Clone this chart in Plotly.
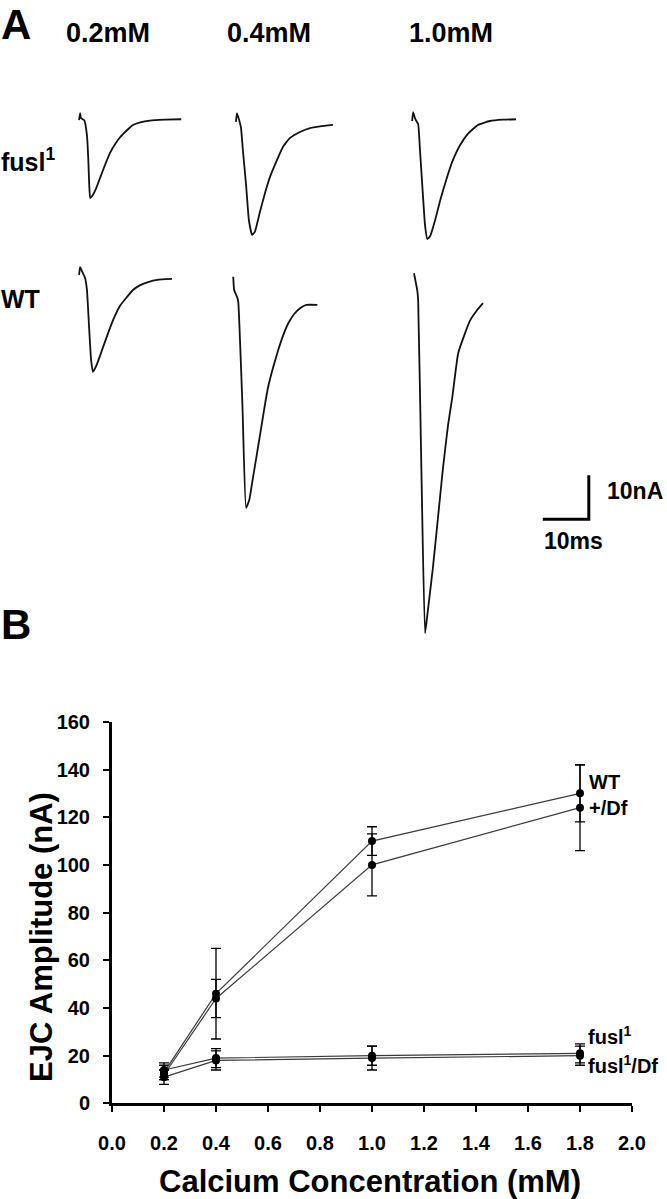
import plotly.graph_objects as go

# ---------------- Panel B data ----------------
calcium_mM = [0.2, 0.4, 1.0, 1.8]
wt_nA = [13, 46, 110, 130]
wt_err = [3, 19, 6, 12]
df_nA = [12, 44, 100, 124]
df_err = [2, 8, 13, 18]
fusl_nA = [14, 19, 20, 21]
fusl_err = [3, 4, 4, 4]
fusl_df_nA = [11, 18, 19, 20]
fusl_df_err = [3, 4, 5, 4]
x_ticks = [0.0, 0.2, 0.4, 0.6, 0.8, 1.0, 1.2, 1.4, 1.6, 1.8, 2.0]
y_ticks = [0, 20, 40, 60, 80, 100, 120, 140, 160]

# ---------------- Panel A data (EJC traces: time ms, current nA) ----------------
fusl_02_t = [0, 0.2, 0.4, 1.1, 1.7, 2.0, 2.2, 2.4, 2.8, 3.7, 4.6, 5.7, 6.7, 7.8, 8.9, 10.4, 11.7, 13.3, 15.4, 18.7, 22.2]
fusl_02_i = [0, 1.6, 0.5, 0, -3.4, -9.1, -14.8, -17.7, -17.3, -15.5, -13.0, -10.0, -7.5, -5.5, -3.9, -2.3, -1.1, -0.5, -0.1, 0.1, 0.2]
fusl_04_t = [0, 0.2, 0.7, 1.1, 1.5, 2.2, 2.8, 3.5, 4.1, 5.2, 6.3, 7.4, 8.9, 10.2, 11.7, 13.9, 16.1, 18.3, 21.1]
fusl_04_i = [0.5, 2.5, 0.9, -0.9, -5.9, -13.9, -21.8, -25.2, -24.5, -20.0, -15.7, -12.0, -8.2, -5.2, -3.2, -1.8, -0.9, -0.5, -0.2]
fusl_10_t = [0, 0.2, 0.7, 1.3, 1.7, 2.2, 2.8, 3.3, 3.9, 5.0, 6.1, 7.4, 8.7, 10.4, 12.2, 14.3, 16.9, 19.8, 22.6]
fusl_10_i = [-0.2, 1.8, 0.2, -0.9, -6.8, -14.8, -23.9, -27.0, -26.4, -22.7, -18.2, -13.6, -9.5, -5.7, -3.0, -1.1, -0.2, 0.1, 0.2]
wt_02_t = [0, 0.2, 0.7, 1.3, 1.7, 2.2, 2.6, 3.0, 3.7, 4.6, 5.2, 6.3, 7.4, 8.9, 10.4, 11.7, 13.3, 15.0, 17.0, 20.2]
wt_02_i = [0.9, 2.7, 1.6, 0.2, -2.5, -11.6, -18.4, -21.1, -19.8, -17.3, -15.5, -12.3, -9.3, -6.1, -4.1, -2.5, -1.4, -0.7, -0.2, 0]
wt_04_t = [0, 0.2, 0.9, 1.1, 2.0, 2.8, 3.5, 4.1, 5.0, 5.9, 6.7, 7.6, 8.7, 9.8, 10.9, 12.0, 13.3, 14.6, 15.9, 18.3]
wt_04_i = [6.4, 3.4, 1.6, 0.7, -22.7, -46.1, -44.3, -40.5, -34.8, -29.1, -23.9, -18.6, -14.1, -10.2, -6.8, -4.1, -2.0, -0.7, 0, 0]
wt_10_t = [0, 0.7, 0.9, 1.6, 2.4, 3.0, 4.1, 5.2, 6.3, 7.4, 8.3, 9.6, 11.1, 12.2, 13.7, 15.0]
wt_10_i = [6.8, 2.95, 0.7, -37.5, -75.0, -70.0, -60.2, -48.9, -37.5, -27.7, -21.6, -11.4, -6.8, -3.9, -1.6, 0]
scale_ms = 10
scale_nA = 10

# ---------------- layout constants ----------------
W, H = 667, 1199
PX_PER_MS, PX_PER_NA = 4.6, 4.4
A_TOP, A_BOTTOM = 0, 660          # pixel extent of the panel A canvas
# placement of each trace on panel A canvas (start time ms, baseline nA)
placement = {
    "fusl_02": (17.2, -27.3), "fusl_04": (51.3, -28.2), "fusl_10": (89.6, -27.3),
    "wt_02": (17.2, -63.4), "wt_04": (50.7, -69.3), "wt_10": (90.0, -68.9),
}
scale_corner = (128.0, -118.0)

FONT = "Liberation Sans, Arial"


def fx(p):
    return p / W


def fy(p):
    return 1 - p / H


fig = go.Figure()

# ---- panel B series (first so that axis x/y is the main subplot) ----
series = [
    (wt_nA, wt_err), (df_nA, df_err), (fusl_nA, fusl_err), (fusl_df_nA, fusl_df_err),
]
for vals, err in series:
    fig.add_trace(go.Scatter(
        x=calcium_mM, y=vals, mode="lines+markers",
        line=dict(color="#3a3a3a", width=1.2),
        marker=dict(color="black", size=8),
        error_y=dict(type="data", array=err, visible=True, color="black", thickness=1.3, width=5),
        showlegend=False, hoverinfo="skip", cliponaxis=False))

# ---- panel A traces ----
traces_a = {
    "fusl_02": (fusl_02_t, fusl_02_i), "fusl_04": (fusl_04_t, fusl_04_i), "fusl_10": (fusl_10_t, fusl_10_i),
    "wt_02": (wt_02_t, wt_02_i), "wt_04": (wt_04_t, wt_04_i), "wt_10": (wt_10_t, wt_10_i),
}
for name, (t, i) in traces_a.items():
    t0, b0 = placement[name]
    fig.add_trace(go.Scatter(x=[v + t0 for v in t], y=[v + b0 for v in i], mode="lines",
                             line=dict(color="#111", width=1.8, shape="spline", smoothing=0.4),
                             xaxis="x2", yaxis="y2", showlegend=False, hoverinfo="skip"))
cx, cy = scale_corner
fig.add_trace(go.Scatter(x=[cx - scale_ms, cx, cx], y=[cy, cy, cy + scale_nA], mode="lines",
                         line=dict(color="black", width=3), xaxis="x2", yaxis="y2",
                         showlegend=False, hoverinfo="skip"))

fig.update_layout(
    width=W, height=H, margin=dict(l=0, r=0, t=0, b=0, autoexpand=False),
    paper_bgcolor="white", plot_bgcolor="rgba(0,0,0,0)",
    xaxis=dict(domain=[fx(112), fx(632)], range=[0, 2], showline=True, linewidth=3, linecolor="black",
               ticks="outside", ticklen=6, tickwidth=2, tickcolor="black", tickvals=x_ticks,
               ticktext=[f"{v:.1f}" for v in x_ticks], showgrid=False, zeroline=False,
               tickfont=dict(family=FONT, size=20, color="black", weight="bold"),
               ticklabelstandoff=14, anchor="y", fixedrange=True),
    yaxis=dict(domain=[fy(1103.4), fy(721.8)], range=[0, 160], showline=True, linewidth=3, linecolor="black",
               ticks="outside", ticklen=6, tickwidth=2, tickcolor="black", tickvals=y_ticks,
               showgrid=False, zeroline=False,
               tickfont=dict(family=FONT, size=20, color="black", weight="bold"),
               ticklabelstandoff=9, anchor="x", fixedrange=True),
    xaxis2=dict(domain=[0, 1], range=[0, W / PX_PER_MS], visible=False, anchor="y2", fixedrange=True),
    yaxis2=dict(domain=[fy(A_BOTTOM), fy(A_TOP)], range=[-A_BOTTOM / PX_PER_NA, -A_TOP / PX_PER_NA],
                visible=False, anchor="x2", fixedrange=True),
)


def txt(s, x, y, size, xanchor="center", yanchor="middle", angle=0):
    fig.add_annotation(text=s, x=fx(x), y=fy(y), xref="paper", yref="paper", showarrow=False,
                       xanchor=xanchor, yanchor=yanchor, textangle=angle, borderpad=0,
                       font=dict(family=FONT, size=size, color="black", weight="bold"))


txt("A", 0, 0, 42, xanchor="left", yanchor="top")
txt("B", 0, 624, 42, xanchor="left")
txt("0.2mM", 108, 33, 27)
txt("0.4mM", 269, 33, 27)
txt("1.0mM", 451, 33, 27)
txt("fusl<sup>1</sup>", 0, 160, 25, xanchor="left")
txt("WT", 0, 299, 25, xanchor="left")
txt("10nA", 606, 491, 23, xanchor="left")
txt("10ms", 543, 541, 23, xanchor="left")

txt("WT", 588, 782, 20, xanchor="left")
txt("+/Df", 588, 808, 20, xanchor="left")
txt("fusl<sup>1</sup>", 587, 1035, 20, xanchor="left")
txt("fusl<sup>1</sup>/Df", 587, 1064, 20, xanchor="left")

txt("EJC Amplitude (nA)", 41, 937, 31, angle=-90)
txt("Calcium Concentration (mM)", 370, 1181, 31)

fig.write_html("out.html")
